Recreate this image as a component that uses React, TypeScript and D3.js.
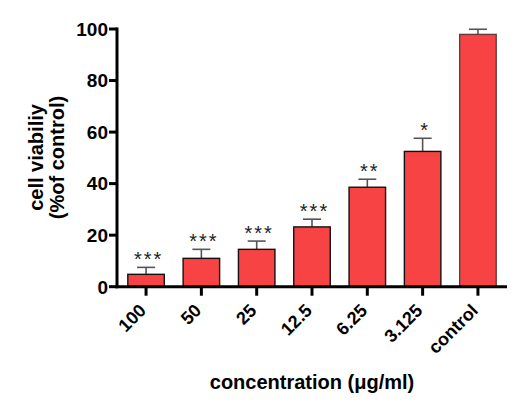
import React from "react";
import * as d3 from "d3";

const categories = ["100", "50", "25", "12.5", "6.25", "3.125", "control"];
const viability = [4.8, 11.0, 14.5, 23.2, 38.6, 52.5, 97.9];
const errors = [2.7, 3.5, 3.2, 3.0, 3.1, 5.1, 2.0];
const significance = ["***", "***", "***", "***", "**", "*", ""];
const yTicks = [0, 20, 40, 60, 80, 100];

const W = 519;
const H = 414;
const FONT = "'Liberation Sans', Arial, sans-serif";

export default function App() {
  const x = d3
    .scaleBand<string>()
    .domain(categories)
    .range([118.4, 505.6])
    .paddingInner(0.34)
    .paddingOuter(0.17);
  const y = d3.scaleLinear().domain([0, 100]).range([286.7, 29]);
  const axisX = 117;
  const axisY = y(0);
  const bw = x.bandwidth();

  return (
    <svg
      width={W}
      height={H}
      style={{ position: "absolute", left: 0, top: 0, background: "#fff" }}
      fontFamily={FONT}
    >
      {/* bars */}
      {categories.map((c, i) => {
        const x0 = x(c)!;
        const cx = x0 + bw / 2;
        const top = y(viability[i]);
        const capY = y(viability[i] + errors[i]);
        return (
          <g key={c}>
            <line x1={cx} x2={cx} y1={top} y2={capY} stroke="#555" strokeWidth={1.6} />
            <line x1={cx - 9} x2={cx + 9} y1={capY} y2={capY} stroke="#555" strokeWidth={1.6} />
            <rect
              x={x0}
              y={top}
              width={bw}
              height={axisY - top}
              fill="#F74343"
              stroke={i === categories.length - 1 ? "#6a3a3a" : "#111"}
              strokeWidth={1.4}
            />
            {significance[i] && (
              <text
                x={cx + 2.5}
                y={capY - 1}
                textAnchor="middle"
                fontSize={20}
                letterSpacing={2}
                fill="#222"
              >
                {significance[i]}
              </text>
            )}
          </g>
        );
      })}

      {/* y axis */}
      <line x1={axisX} x2={axisX} y1={y(100) - 1.5} y2={axisY + 1.5} stroke="#000" strokeWidth={3} />
      {yTicks.map((t) => (
        <g key={t}>
          <line x1={axisX - 8} x2={axisX} y1={y(t)} y2={y(t)} stroke="#000" strokeWidth={3} />
          <text
            x={108}
            y={y(t)}
            dy="0.36em"
            textAnchor="end"
            fontSize={19}
            fontWeight="bold"
            fill="#000"
          >
            {t}
          </text>
        </g>
      ))}

      {/* x axis */}
      <line x1={axisX - 1.5} x2={507} y1={axisY} y2={axisY} stroke="#000" strokeWidth={3} />
      {categories.map((c) => {
        const cx = x(c)! + bw / 2;
        return (
          <g key={c}>
            <line x1={cx} x2={cx} y1={axisY} y2={axisY + 9} stroke="#000" strokeWidth={3} />
            <text
              transform={`translate(${cx + 1},${axisY + 25}) rotate(-45)`}
              textAnchor="end"
              fontSize={18}
              fontWeight="bold"
              fill="#000"
            >
              {c}
            </text>
          </g>
        );
      })}

      {/* axis titles */}
      <text
        x={312}
        y={389}
        textAnchor="middle"
        fontSize={20}
        fontWeight="bold"
        fill="#000"
      >
        concentration (μg/ml)
      </text>
      <g transform="translate(0,157.5) rotate(-90)">
        <text x={0} y={42.5} textAnchor="middle" fontSize={20} fontWeight="bold" fill="#000">
          cell viabiliy
        </text>
        <text x={0} y={64} textAnchor="middle" fontSize={20} fontWeight="bold" fill="#000">
          (%of control)
        </text>
      </g>
    </svg>
  );
}
